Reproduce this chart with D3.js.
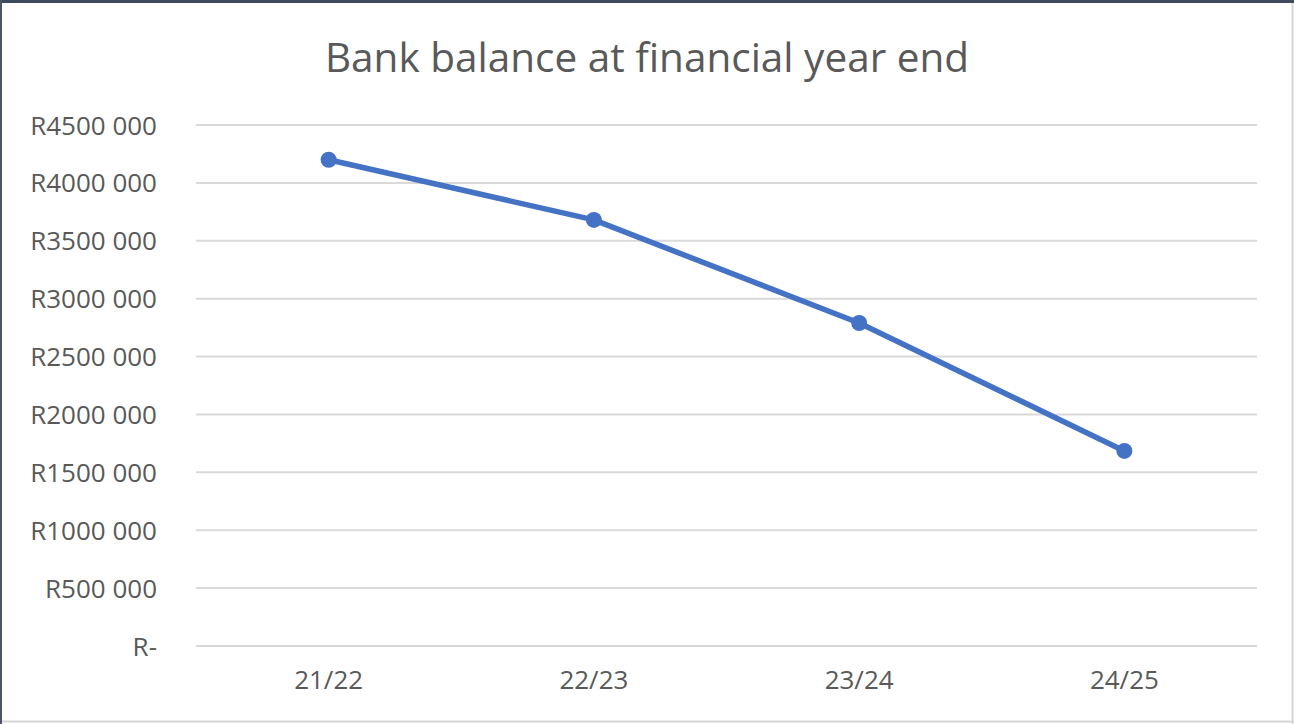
<!DOCTYPE html>
<html>
<head>
<meta charset="utf-8">
<script src="https://cdn.jsdelivr.net/npm/d3@7"></script>
<style>
  body { margin: 0; background: #fff; }
  #chart text { font-family: "Open Sans", sans-serif; fill: #595959; }
</style>
</head>
<body>
<div id="chart"></div>
<script>
// data
var years = ["21/22", "22/23", "23/24", "24/25"];
var balances = [4200000, 3680000, 2790000, 1685000];
var yTicks = [0, 500000, 1000000, 1500000, 2000000, 2500000, 3000000, 3500000, 4000000, 4500000];

var W = 1294, H = 724;
var margin = {top: 125, right: 37, bottom: 78, left: 196};
var width = W - margin.left - margin.right;
var height = H - margin.top - margin.bottom;

var svg = d3.select("#chart").append("svg")
  .attr("width", W)
  .attr("height", H);

// frame
svg.append("rect").attr("x", 0).attr("y", 0).attr("width", W).attr("height", H).attr("fill", "#fff");
svg.append("rect").attr("x", 0).attr("y", 0).attr("width", W).attr("height", 3).attr("fill", "#3e4b5e");
svg.append("rect").attr("x", 0).attr("y", 0).attr("width", 2).attr("height", H).attr("fill", "#4a5568");
svg.append("line").attr("x1", W - 1.5).attr("x2", W - 1.5).attr("y1", 3).attr("y2", H)
  .attr("stroke", "#d6d6d6").attr("stroke-width", 2);
svg.append("line").attr("x1", 2).attr("x2", W).attr("y1", 721.5).attr("y2", 721.5)
  .attr("stroke", "#d6d6d6").attr("stroke-width", 2);

var g = svg.append("g").attr("transform", "translate(" + margin.left + "," + margin.top + ")");

var x = d3.scaleBand().domain(years).range([0, width]).padding(0);
var y = d3.scaleLinear().domain([0, 4500000]).range([height, 0]);

// gridlines
g.append("g")
  .selectAll("line")
  .data(yTicks)
  .enter()
  .append("line")
    .attr("x1", 0)
    .attr("x2", width)
    .attr("y1", d => y(d))
    .attr("y2", d => y(d))
    .attr("stroke", "#d9d9d9")
    .attr("stroke-width", 2);

// y axis labels
var fmt = function (d) {
  if (d === 0) return "R-";
  var s = d3.format("d")(d);
  return "R" + s.slice(0, s.length - 3) + " " + s.slice(-3);
};
var yAxis = g.append("g")
  .attr("transform", "translate(-39,0)")
  .call(d3.axisLeft(y).tickValues(yTicks).tickFormat(fmt).tickSize(0).tickPadding(0));
yAxis.select(".domain").remove();
yAxis.selectAll("text").style("font-size", "26px").attr("dy", "0.35em");

// x axis labels
var xAxis = g.append("g")
  .attr("transform", "translate(0," + height + ")")
  .call(d3.axisBottom(x).tickSize(0).tickPadding(25));
xAxis.select(".domain").remove();
xAxis.selectAll("text").style("font-size", "26px");

// line
var line = d3.line()
  .x((d, i) => x(years[i]) + x.bandwidth() / 2)
  .y(d => y(d));

g.append("path")
  .datum(balances)
  .attr("d", line)
  .attr("fill", "none")
  .attr("stroke", "#4472c4")
  .attr("stroke-width", 5.5)
  .attr("stroke-linejoin", "round");

g.append("g")
  .selectAll("circle")
  .data(balances)
  .enter()
  .append("circle")
    .attr("cx", (d, i) => x(years[i]) + x.bandwidth() / 2)
    .attr("cy", d => y(d))
    .attr("r", 8)
    .attr("fill", "#4472c4");

// title
svg.append("text")
  .attr("x", 647)
  .attr("y", 72)
  .attr("text-anchor", "middle")
  .style("font-size", "40.5px")
  .text("Bank balance at financial year end");
</script>
</body>
</html>
